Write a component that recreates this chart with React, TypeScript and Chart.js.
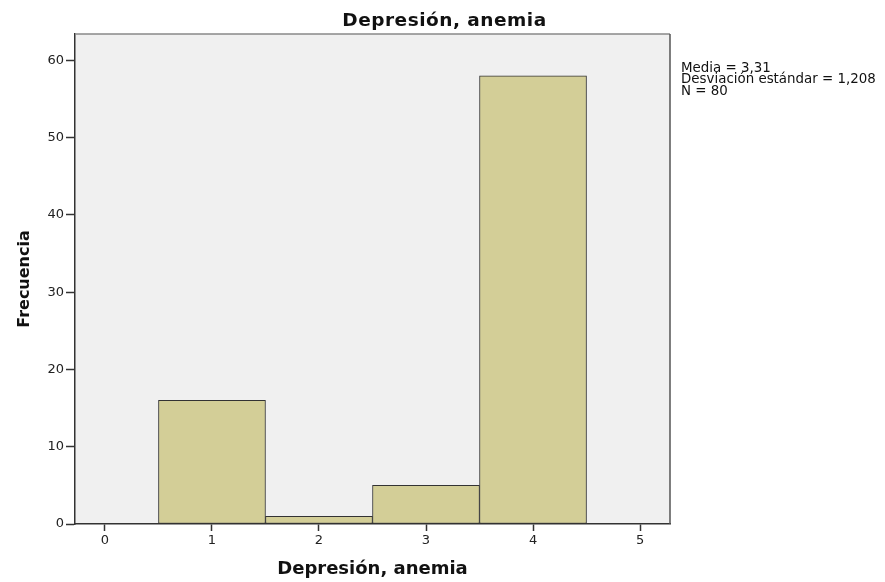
import React, { useEffect, useRef } from "react";
import { Chart, registerables } from "chart.js";

Chart.register(...registerables);

const binCenters = [1, 2, 3, 4];
const frequencies = [16, 1, 5, 58];
const statLines = ["Media = 3,31", "Desviación estándar = 1,208", "N = 80"];
const chartTitle = "Depresión, anemia";
const xAxisTitle = "Depresión, anemia";
const yAxisTitle = "Frecuencia";

const FONT = "'DejaVu Sans', Verdana, sans-serif";

export default function App() {
  const ref = useRef<HTMLCanvasElement | null>(null);
  useEffect(() => {
    if (!ref.current) return;
    const bgPlugin = {
      id: "plotBg",
      beforeDraw(chart: any) {
        const { ctx, chartArea: a } = chart;
        ctx.save();
        ctx.fillStyle = "#f0f0f0";
        ctx.fillRect(a.left, a.top, a.right - a.left, a.bottom - a.top);
        ctx.restore();
      },
      afterDraw(chart: any) {
        const { ctx, chartArea: a, width } = chart;
        ctx.save();
        ctx.lineWidth = 1.5;
        ctx.strokeStyle = "#888";
        ctx.beginPath();
        ctx.moveTo(a.left, a.top);
        ctx.lineTo(a.right, a.top);
        ctx.stroke();
        ctx.strokeStyle = "#555";
        ctx.beginPath();
        ctx.moveTo(a.right, a.top);
        ctx.lineTo(a.right, a.bottom);
        ctx.stroke();
        // chart title, centred on the canvas
        ctx.fillStyle = "#111";
        ctx.font = `bold 18.5px ${FONT}`;
        (ctx as any).letterSpacing = "0.5px";
        ctx.textAlign = "center";
        ctx.textBaseline = "alphabetic";
        ctx.fillText(chartTitle, width / 2 + 2, 26);
        (ctx as any).letterSpacing = "0px";
        // stats box
        ctx.textAlign = "left";
        ctx.font = `13.4px ${FONT}`;
        statLines.forEach((s, i) => {
          ctx.fillText(s, a.right + 11, 72 + i * 11.3);
        });
        ctx.restore();
      },
    };
    const chart = new Chart(ref.current, {
      type: "bar",
      data: {
        datasets: [
          {
            data: binCenters.map((x, i) => ({ x, y: frequencies[i] })),
            backgroundColor: "#d3ce97",
            borderColor: "#333333",
            borderWidth: 1,
            borderSkipped: false,
            barPercentage: 1,
            categoryPercentage: 1,
          },
        ],
      },
      options: {
        animation: false,
        responsive: false,
        maintainAspectRatio: false,
        layout: { padding: { left: 0, right: 215, top: 34, bottom: 0 } },
        plugins: {
          legend: { display: false },
          tooltip: { enabled: false },
          title: { display: false },
        },
        scales: {
          x: {
            type: "linear",
            min: -0.28,
            max: 5.28,
            offset: false,
            afterFit(scale: any) {
              scale.height = 58;
            },
            ticks: {
              stepSize: 1,
              includeBounds: false,
              color: "#222",
              font: { family: FONT, size: 13 },
              padding: 2,
            },
            grid: {
              offset: false,
              drawOnChartArea: false,
              drawTicks: true,
              tickLength: 7,
              tickWidth: 1.5,
              tickColor: "#333",
            },
            border: { display: true, color: "#333", width: 1.5 },
            title: {
              display: true,
              text: xAxisTitle,
              color: "#111",
              font: { family: FONT, size: 18, weight: "bold" },
              padding: { top: 4, bottom: 2 },
            },
          },
          y: {
            type: "linear",
            min: 0,
            max: 63.4,
            afterFit(scale: any) {
              scale.width = 75;
            },
            ticks: {
              stepSize: 10,
              includeBounds: false,
              color: "#222",
              font: { family: FONT, size: 13 },
              padding: 2,
            },
            grid: {
              offset: false,
              drawOnChartArea: false,
              drawTicks: true,
              tickLength: 9,
              tickWidth: 1.5,
              tickColor: "#333",
            },
            border: { display: true, color: "#333", width: 1.5 },
            title: {
              display: true,
              text: yAxisTitle,
              color: "#111",
              font: { family: FONT, size: 16, weight: "bold" },
              padding: { top: 15, bottom: 0 },
            },
          },
        },
      },
      plugins: [bgPlugin],
    } as any);
    return () => chart.destroy();
  }, []);
  return (
    <div style={{ position: "fixed", left: 0, top: 0, width: 885, height: 582, background: "#fff" }}>
      <canvas ref={ref} width={885} height={582} style={{ width: 885, height: 582 }} />
    </div>
  );
}
